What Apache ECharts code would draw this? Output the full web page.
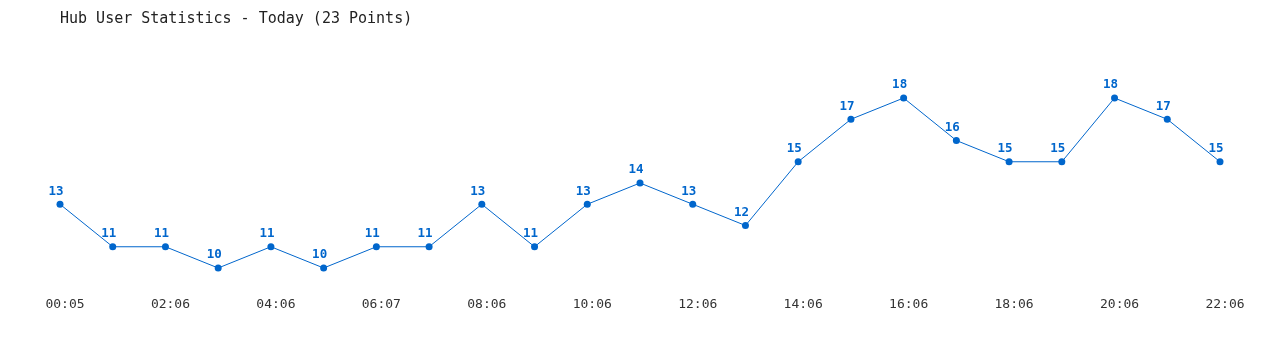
<!DOCTYPE html>
<html><head><meta charset="utf-8">
<script src="https://cdn.jsdelivr.net/npm/echarts@6/dist/echarts.min.js"></script>
<style>html,body{margin:0;padding:0;background:#fff}#c{width:1280px;height:350px}</style>
</head><body><div id="c"></div>
<script>
const categories = ["00:05","01:06","02:06","03:06","04:06","05:06","06:07","07:06","08:06","09:06","10:06","11:06","12:06","13:06","14:06","15:06","16:06","17:06","18:06","19:06","20:06","21:06","22:06"];
const users = [13,11,11,10,11,10,11,11,13,11,13,14,13,12,15,17,18,16,15,15,18,17,15];
const titleText = "Hub User Statistics - Today (23 Points)";
const mono = "'DejaVu Sans Mono', 'Liberation Mono', monospace";
const chart = echarts.init(document.getElementById('c'));
chart.setOption({
  animation: false,
  title: { text: titleText, left: 55, top: 7, textStyle: { fontFamily: mono, fontSize: 15, fontWeight: 'normal', color: '#222' } },
  grid: { left: 60, right: 60, top: 76.75, bottom: 60.75 },
  xAxis: {
    type: 'category', data: categories, boundaryGap: false,
    axisLine: { show: false }, axisTick: { show: false },
    axisLabel: { interval: 1, margin: 9, padding: [0, 0, 0, 10], fontFamily: mono, fontSize: 13, color: '#333' }
  },
  yAxis: { type: 'value', min: 9, max: 19, show: false, splitLine: { show: false } },
  series: [{
    type: 'line', data: users, symbol: 'circle', symbolSize: 7,
    lineStyle: { width: 1, color: '#0066cc' }, itemStyle: { color: '#0066cc' },
    label: { show: true, position: 'top', distance: 3, offset: [-4, 0], fontFamily: mono, fontSize: 12.5, fontWeight: 'bold', color: '#0066cc' }
  }]
});
</script></body></html>
